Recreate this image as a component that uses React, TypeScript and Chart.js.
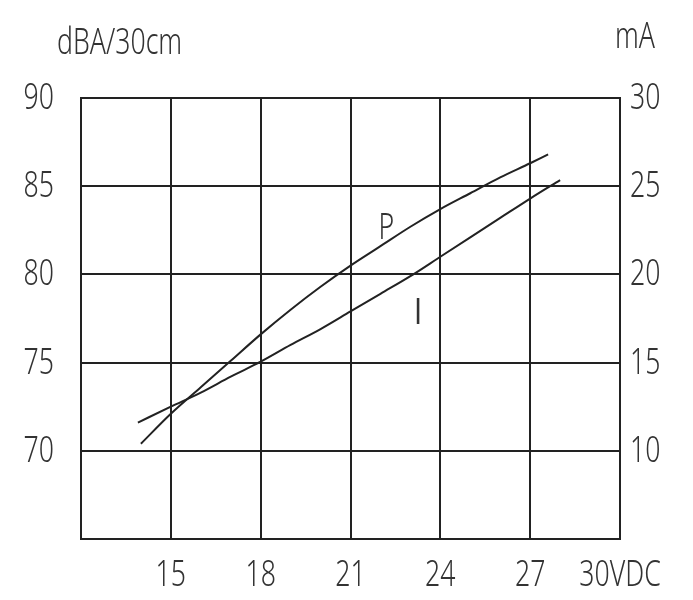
import React, { useEffect, useRef } from "react";
import { Chart, registerables } from "chart.js";

Chart.register(...registerables);

// Supply voltage (VDC) for the sound-pressure curve P
const voltageP = [14, 15, 16, 17, 18, 19, 20, 21, 22, 23, 24, 25, 26, 27, 27.6];
// Sound pressure level, dBA at 30 cm
const noiseP = [70.4, 72.1, 73.6, 75.1, 76.6, 78.0, 79.3, 80.5, 81.6, 82.7, 83.7, 84.6, 85.5, 86.3, 86.8];
// Supply voltage (VDC) for the current curve I
const voltageI = [13.9, 15, 16, 17, 18, 19, 20, 21, 22, 23, 24, 25, 26, 27, 28];
// Current consumption, mA
const currentI = [11.6, 12.5, 13.3, 14.2, 15.05, 16.0, 16.9, 17.9, 18.9, 19.9, 21.0, 22.1, 23.2, 24.3, 25.35];

// Axis ranges / tick steps
const xRange = [12, 30];
const xStep = 3;
const dbaRange = [65, 90];
const maRange = [5, 30];
const yStep = 5;

const leftTitle = "dBA/30cm";
const rightTitle = "mA";
const xUnit = "VDC";

const FAMILY = '"Noto Sans", "DejaVu Sans", sans-serif';
const FONT = `300 37px ${FAMILY}`;
const SX = 0.72; // narrow (DIN-like) lettering
const INK = "#222222";
const TEXT = "#333333";

function narrowText(ctx: any, text: string, x: number, y: number, align: string, font = FONT) {
  ctx.save();
  ctx.font = font;
  ctx.textAlign = align;
  ctx.textBaseline = "alphabetic";
  ctx.scale(SX, 1);
  ctx.fillText(text, x / SX, y);
  ctx.restore();
}

const xLabel = (v: number) => (v === xRange[0] ? "" : v === xRange[1] ? `${v}${xUnit}` : String(v));

const lettering = {
  id: "lettering",
  afterDraw(chart: any) {
    const ctx = chart.ctx;
    const { chartArea, scales } = chart;
    ctx.save();
    ctx.fillStyle = TEXT;
    // axis titles
    narrowText(ctx, leftTitle, chartArea.left - 24, 54, "left");
    narrowText(ctx, rightTitle, chartArea.right + 35, 48, "right");
    // x tick labels
    scales.x.ticks.forEach((t: any) => {
      const s = xLabel(t.value);
      if (s) narrowText(ctx, s, scales.x.getPixelForValue(t.value), chartArea.bottom + 47, "center");
    });
    // left tick labels
    scales.y.ticks.forEach((t: any) => {
      if (t.value === dbaRange[0]) return;
      narrowText(ctx, String(t.value), chartArea.left - 27, scales.y.getPixelForValue(t.value) + 11, "right");
    });
    // right tick labels
    scales.y1.ticks.forEach((t: any) => {
      if (t.value === maRange[0]) return;
      narrowText(ctx, String(t.value), chartArea.right + 10, scales.y1.getPixelForValue(t.value) + 11, "left");
    });
    // curve labels, placed in data coordinates
    narrowText(ctx, "P", scales.x.getPixelForValue(22.2), scales.y.getPixelForValue(82.9) + 16, "center");
    narrowText(ctx, "I", scales.x.getPixelForValue(23.26), scales.y1.getPixelForValue(18.1) + 16, "center",
      `36px "DejaVu Sans", sans-serif`);
    ctx.restore();
  },
};

export default function App() {
  const ref = useRef<HTMLCanvasElement | null>(null);

  useEffect(() => {
    if (!ref.current) return;
    const chart = new Chart(ref.current, {
      type: "line",
      data: {
        datasets: [
          {
            label: "P",
            data: voltageP.map((v, i) => ({ x: v, y: noiseP[i] })),
            yAxisID: "y",
            borderColor: INK,
            borderWidth: 2,
            pointRadius: 0,
            cubicInterpolationMode: "monotone",
            fill: false,
          },
          {
            label: "I",
            data: voltageI.map((v, i) => ({ x: v, y: currentI[i] })),
            yAxisID: "y1",
            borderColor: INK,
            borderWidth: 2,
            pointRadius: 0,
            cubicInterpolationMode: "monotone",
            fill: false,
          },
        ],
      },
      options: {
        animation: false,
        responsive: false,
        layout: { padding: { top: 98, left: 0, right: 0, bottom: 0 } },
        plugins: { legend: { display: false }, tooltip: { enabled: false } },
        scales: {
          x: {
            type: "linear",
            position: "bottom",
            min: xRange[0],
            max: xRange[1],
            ticks: { stepSize: xStep, autoSkip: false, display: false },
            grid: { color: INK, lineWidth: 2, drawTicks: false },
            border: { display: true, color: INK, width: 2 },
            afterFit: (s: any) => {
              s.height = 61;
            },
          },
          y: {
            position: "left",
            min: dbaRange[0],
            max: dbaRange[1],
            ticks: { stepSize: yStep, display: false },
            grid: { color: INK, lineWidth: 2, drawTicks: false },
            border: { display: true, color: INK, width: 2 },
            afterFit: (s: any) => {
              s.width = 81;
            },
          },
          y1: {
            position: "right",
            min: maRange[0],
            max: maRange[1],
            ticks: { stepSize: yStep, display: false },
            grid: { display: false, drawTicks: false },
            border: { display: true, color: INK, width: 2 },
            afterFit: (s: any) => {
              s.width = 73;
            },
          },
        },
      } as any,
      plugins: [lettering],
    });
    return () => chart.destroy();
  }, []);

  return (
    <div style={{ position: "fixed", left: 0, top: 0, width: 693, height: 600, background: "#fff" }}>
      <canvas ref={ref} width={693} height={600} style={{ width: 693, height: 600 }} />
    </div>
  );
}
